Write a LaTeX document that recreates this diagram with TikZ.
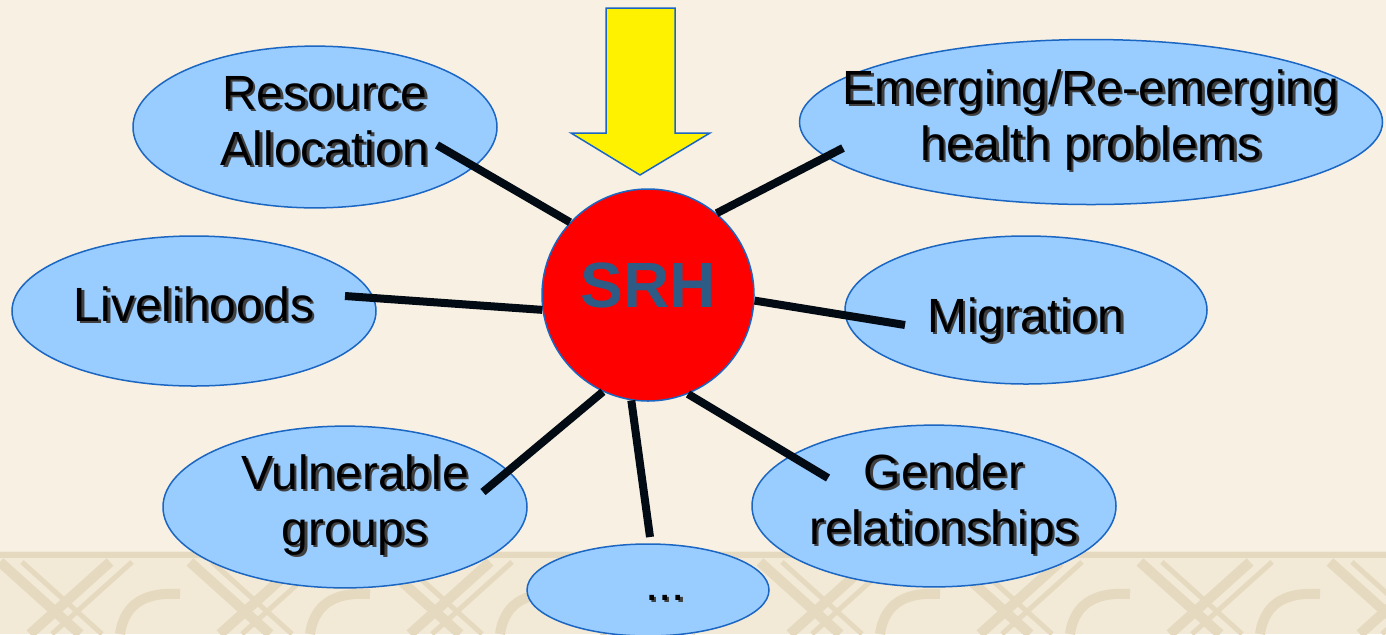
\documentclass[tikz,border=0pt]{standalone}
\usepackage{fontspec}
\setmainfont{Liberation Sans}
\usetikzlibrary{shapes.geometric}

\definecolor{paper}{HTML}{F8F0E2}
\definecolor{band}{HTML}{F2E9D6}
\definecolor{knot}{HTML}{E5DABF}
\definecolor{bubble}{HTML}{99CCFF}
\definecolor{rim}{HTML}{1A66C2}
\definecolor{srhtext}{HTML}{2E5A86}
\definecolor{spoke}{HTML}{020A14}
\definecolor{shade}{HTML}{404040}

\newcommand\shtxt[1]{\makebox[0pt]{\rlap{\raisebox{-1.2pt}{\hspace{1.2pt}\textcolor{shade}{\begin{tabular}{@{}c@{}}#1\end{tabular}}}}\begin{tabular}{@{}c@{}}#1\end{tabular}}}

\tikzset{
  topic/.style={ellipse, draw=rim, line width=0.75pt, fill=bubble, inner sep=0pt, font=\fontsize{24}{28}\selectfont},
  spokeline/.style={draw=spoke, line width=4pt}
}

\begin{document}
\begin{tikzpicture}[x=0.5pt,y=-0.5pt]
\useasboundingbox (0,0) rectangle (1386,634);
\clip (0,0) rectangle (1386,634);
\fill [paper] (0,0) rectangle (1386,634);
\fill [band] (0,551) rectangle (1386,634);
\draw [knot, line width=3pt] (0,555) -- (1386,555);
\foreach \x in {-190,0,...,1400} {
  \draw [knot, line width=5pt] (\x,562) -- (\x+80,634);
  \draw [knot, line width=2.5pt] (\x+22,562) -- (\x+102,634);
  \draw [knot, line width=5pt] (\x+110,562) -- (\x+30,634);
  \draw [knot, line width=2.5pt] (\x+132,562) -- (\x+52,634);
  \draw [knot, line width=5pt] (\x+120,634) .. controls (\x+125,600) and (\x+150,592) .. (\x+180,594);
}

\draw [rim, line width=0.75pt, fill=yellow] (606,8) -- (675,8) -- (675,133) -- (710,133) -- (640,175) -- (571,133) -- (606,133) -- cycle;

\node [topic, minimum width=182pt, minimum height=73.5pt] (res) at (315,127) {\shtxt{\hspace{10pt}Resource\\\hspace{10pt}Allocation}};
\node [topic, minimum width=291.5pt, minimum height=82.5pt] (emerg) at (1091,122) {\shtxt{Emerging/Re-emerging\\health problems}};
\node [topic, minimum width=182pt, minimum height=75pt] (live) at (194,311) {\shtxt{Livelihoods}};
\node [topic, minimum width=181pt, minimum height=74pt] (migr) at (1026,310) {\shtxt{\raisebox{-6pt}[0pt][0pt]{Migration}}};
\node [topic, minimum width=182pt, minimum height=74.5pt] (vuln) at (345,507) {\shtxt{\hspace{10pt}Vulnerable\\\hspace{10pt}groups}};
\node [topic, minimum width=182pt, minimum height=75.5pt] (gender) at (934,506) {\shtxt{\hspace{10pt}Gender\\\hspace{10pt}relationships}};
\node [topic, minimum width=121pt, minimum height=46pt] (more) at (648,590) {\shtxt{\hspace{17pt}...}};

\node [circle, fill=red, draw=rim, line width=0.75pt, minimum size=106pt, inner sep=0pt, text=srhtext, font=\fontsize{32}{36}\selectfont\bfseries, text depth=10pt] (srh) at (648,295) {SRH};

\coordinate (resEnd) at (437,145);
\coordinate (emergEnd) at (843,148);
\coordinate (liveEnd) at (345,296);
\coordinate (migrEnd) at (905,325);
\coordinate (vulnEnd) at (483,492);
\coordinate (moreEnd) at (650,537);
\coordinate (genderEnd) at (828,478);

\draw [spokeline] (srh.137) -- (resEnd);
\draw [spokeline] (srh.50) -- (emergEnd);
\draw [spokeline] (srh.188) -- (liveEnd);
\draw [spokeline] (srh.-3) -- (migrEnd);
\draw [spokeline] (srh.245) -- (vulnEnd);
\draw [spokeline] (srh.261) -- (moreEnd);
\draw [spokeline] (srh.292) -- (genderEnd);
\end{tikzpicture}
\end{document}
